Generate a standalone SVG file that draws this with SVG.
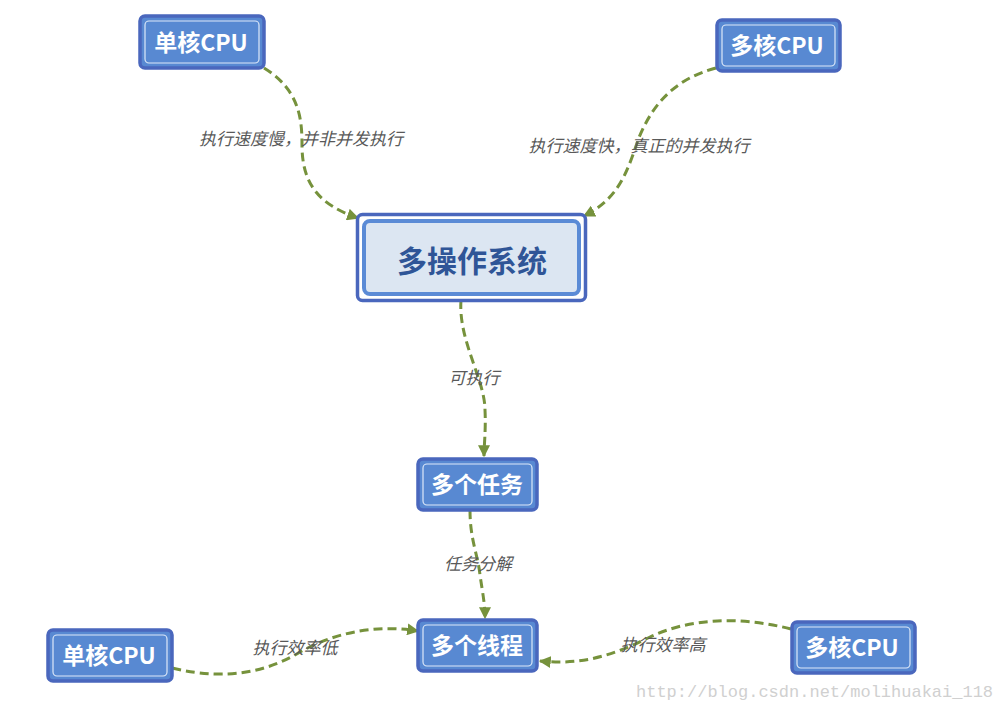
<svg xmlns="http://www.w3.org/2000/svg" width="996" height="711" viewBox="0 0 996 711">
<defs>
<style>
.box{fill:#5889d2;stroke:#4a67bd;stroke-width:3.5}
.inner{fill:none;stroke:#dce8f8;stroke-width:1.2}
.nt{font-family:"Noto Sans CJK SC","Liberation Sans",sans-serif;font-weight:bold;font-size:23px;fill:#ffffff;text-anchor:middle}
.mt{font-family:"Noto Sans CJK SC","Liberation Sans",sans-serif;font-weight:bold;font-size:30px;fill:#2f5597;text-anchor:middle}
.lb{font-family:"Noto Sans CJK SC","Liberation Sans",sans-serif;font-style:italic;font-size:17px;fill:#595959;text-anchor:middle}
.cn{fill:none;stroke:#76923c;stroke-width:3;stroke-dasharray:9 5}
.wm{font-family:"Liberation Mono",monospace;font-size:17px;fill:#d0d0d0}
</style>
<marker id="ah" viewBox="0 0 10 10" refX="9" refY="5" markerWidth="4" markerHeight="4" orient="auto" markerUnits="strokeWidth">
<path d="M0,0 L10,5 L0,10 z" fill="#76923c"/>
</marker>
</defs>
<rect width="996" height="711" fill="#ffffff"/>
<g id="connectors">
<path class="cn" marker-end="url(#ah)" d="M264,68 C300,90 302,120 302,145 C302,185 320,205 358,218"/>
<path class="cn" marker-end="url(#ah)" d="M716,68 C670,80 650,110 638,140 C625,180 615,200 584,216"/>
<path class="cn" marker-end="url(#ah)" d="M461,300 C458,340 485,380 485,410 C486,430 484,445 484,456"/>
<path class="cn" marker-end="url(#ah)" d="M470,510 C470,540 478,555 480,575 C483,595 485,605 485,618"/>
<path class="cn" marker-end="url(#ah)" d="M172,668 C230,682 270,670 300,652 C340,630 380,625 418,631"/>
<path class="cn" marker-end="url(#ah)" d="M791,629 C740,616 690,618 650,637 C610,657 580,665 540,661"/>
<text class="lb" x="301" y="145">执行速度慢，并非并发执行</text>
<text class="lb" x="639" y="152">执行速度快，真正的并发执行</text>
<text class="lb" x="474" y="384">可执行</text>
<text class="lb" x="478" y="570">任务分解</text>
<text class="lb" x="295" y="654">执行效率低</text>
<text class="lb" x="663" y="651">执行效率高</text>
</g>
<g id="n_single_top">
<rect class="box" x="140" y="16" width="124" height="52" rx="5"/>
<rect class="inner" x="145" y="21" width="114" height="42" rx="4"/>
<text class="nt" x="201" y="51">单核CPU</text>
</g>
<g id="n_multi_top">
<rect class="box" x="717" y="20" width="123" height="51" rx="5"/>
<rect class="inner" x="722" y="25" width="113" height="41" rx="4"/>
<text class="nt" x="777" y="54">多核CPU</text>
</g>
<g id="n_os">
<rect x="357.5" y="214.5" width="228" height="86" rx="5" fill="#ffffff" stroke="#4a67bd" stroke-width="3.5"/>
<rect x="364" y="221" width="215" height="73" rx="6" fill="#dce6f2" stroke="#5b8bd6" stroke-width="4"/>
<text class="mt" x="472" y="272">多操作系统</text>
</g>
<g id="n_tasks">
<rect class="box" x="418" y="459" width="119" height="51" rx="5"/>
<rect class="inner" x="423" y="464" width="109" height="41" rx="4"/>
<text class="nt" x="477" y="493">多个任务</text>
</g>
<g id="n_threads">
<rect class="box" x="418" y="620" width="119" height="51" rx="5"/>
<rect class="inner" x="423" y="625" width="109" height="41" rx="4"/>
<text class="nt" x="477" y="654">多个线程</text>
</g>
<g id="n_single_bottom">
<rect class="box" x="48" y="630" width="124" height="51" rx="5"/>
<rect class="inner" x="53" y="635" width="114" height="41" rx="4"/>
<text class="nt" x="109" y="664">单核CPU</text>
</g>
<g id="n_multi_bottom">
<rect class="box" x="792" y="622" width="123" height="51" rx="5"/>
<rect class="inner" x="797" y="627" width="113" height="41" rx="4"/>
<text class="nt" x="852" y="656">多核CPU</text>
</g>
<text class="wm" x="636" y="697">http://blog.csdn.net/molihuakai_118</text>
</svg>
